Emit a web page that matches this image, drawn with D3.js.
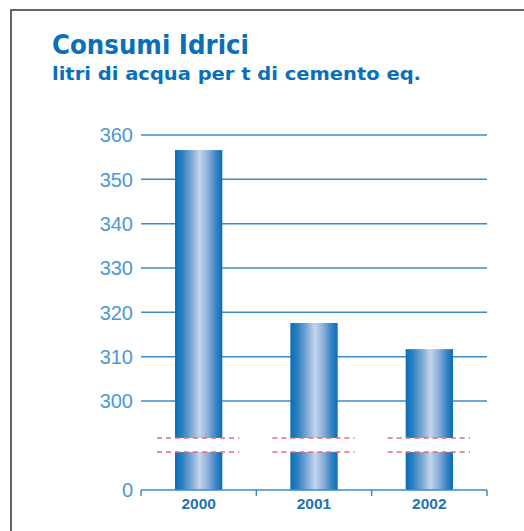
<!DOCTYPE html>
<html>
<head>
<meta charset="utf-8">
<script src="https://cdn.jsdelivr.net/npm/d3@7"></script>
<style>
  body { margin: 0; background: #fff; }
  svg { display: block; }
</style>
</head>
<body>
<div id="chart"></div>
<script>
// data
var years = ["2000", "2001", "2002"];
var consumi = [356.6, 317.6, 311.7];
var upperTicks = [300, 310, 320, 330, 340, 350, 360];
var lowerTicks = [0];

var W = 524, H = 531;
var svg = d3.select("#chart").append("svg")
  .attr("width", W).attr("height", H);

// frame (runs off the right and bottom edges)
svg.append("rect")
  .attr("x", 11).attr("y", 10)
  .attr("width", 540).attr("height", 560)
  .attr("fill", "none")
  .attr("stroke", "#333").attr("stroke-width", 1.5);

// titles
svg.append("text")
  .attr("x", 52).attr("y", 54)
  .attr("font-family", "DejaVu Sans")
  .attr("font-weight", "bold")
  .attr("font-size", 26)
  .attr("fill", "#0a6fb8")
  .attr("textLength", 197).attr("lengthAdjust", "spacingAndGlyphs")
  .text("Consumi Idrici");
svg.append("text")
  .attr("x", 52).attr("y", 80)
  .attr("font-family", "DejaVu Sans")
  .attr("font-weight", "bold")
  .attr("font-size", 17)
  .attr("fill", "#0a6fb8")
  .attr("textLength", 369).attr("lengthAdjust", "spacingAndGlyphs")
  .text("litri di acqua per t di cemento eq.");

// gradient for the bars
var defs = svg.append("defs");
var grad = defs.append("linearGradient").attr("id", "cyl")
  .attr("x1", "0%").attr("x2", "100%").attr("y1", "0%").attr("y2", "0%");
grad.append("stop").attr("offset", "0%").attr("stop-color", "#0a6db4");
grad.append("stop").attr("offset", "15%").attr("stop-color", "#2c80c2");
grad.append("stop").attr("offset", "35%").attr("stop-color", "#7ea7d5");
grad.append("stop").attr("offset", "52%").attr("stop-color", "#c4d5eb");
grad.append("stop").attr("offset", "70%").attr("stop-color", "#8aaed9");
grad.append("stop").attr("offset", "86%").attr("stop-color", "#3a86c6");
grad.append("stop").attr("offset", "100%").attr("stop-color", "#0a6db4");

// scales
var x = d3.scaleBand().domain(years).range([141, 487]).paddingInner(0.59).paddingOuter(0.295);
var yUp = d3.scaleLinear().domain([300, 360]).range([401, 135]);
var yLow = d3.scaleLinear().domain([0, 100]).range([490, 452]);
var breakHigh = yUp.invert(438);
var breakLow = 100;

var blue = "#3b8bcb";

// gridlines (upper section)
svg.append("g").selectAll("line").data(upperTicks).join("line")
  .attr("x1", 141).attr("x2", 487)
  .attr("y1", d => yUp(d)).attr("y2", d => yUp(d))
  .attr("stroke", blue).attr("stroke-width", 1.5);

// y tick labels
var yLabelStyle = function(sel) {
  sel.attr("x", 133).attr("dy", "0.36em")
    .attr("text-anchor", "end")
    .attr("font-family", "Liberation Sans, Arial, sans-serif")
    .attr("font-size", 20)
    .attr("fill", "#4a98d6");
};
svg.append("g").selectAll("text").data(upperTicks).join("text")
  .attr("y", d => yUp(d)).call(yLabelStyle).text(d => d);
svg.append("g").selectAll("text").data(lowerTicks).join("text")
  .attr("y", d => yLow(d)).call(yLabelStyle).text(d => d);

// bars: upper and lower segments
var bars = svg.append("g");
bars.selectAll("rect.up").data(consumi).join("rect")
  .attr("class", "up")
  .attr("x", (d, i) => x(years[i]))
  .attr("width", x.bandwidth())
  .attr("y", d => yUp(d))
  .attr("height", d => yUp(breakHigh) - yUp(d))
  .attr("fill", "url(#cyl)");
bars.selectAll("rect.low").data(consumi).join("rect")
  .attr("class", "low")
  .attr("x", (d, i) => x(years[i]))
  .attr("width", x.bandwidth())
  .attr("y", yLow(breakLow))
  .attr("height", yLow(0) - yLow(breakLow))
  .attr("fill", "url(#cyl)");

// red dashed break marks
var brk = svg.append("g");
[yUp(breakHigh), yLow(breakLow)].forEach(function(yy) {
  brk.selectAll(null).data(years).join("line")
    .attr("x1", d => x(d) - 18).attr("x2", d => x(d) + x.bandwidth() + 17)
    .attr("y1", yy).attr("y2", yy)
    .attr("stroke", "#ee6570").attr("stroke-width", 1.6)
    .attr("stroke-dasharray", "5,4");
});

// x axis
var xAxis = svg.append("g").attr("transform", "translate(0," + yLow(0) + ")");
xAxis.append("line").attr("x1", 141).attr("x2", 487)
  .attr("stroke", blue).attr("stroke-width", 1.5);
var tickXs = [141].concat(years.map(d => x(d) + x.bandwidth() + x.step() * 0.295));
xAxis.selectAll("line.tick").data(tickXs).join("line")
  .attr("class", "tick")
  .attr("x1", d => d).attr("x2", d => d)
  .attr("y1", 0).attr("y2", 6)
  .attr("stroke", blue).attr("stroke-width", 1.5);
xAxis.selectAll("text").data(years).join("text")
  .attr("x", d => x(d) + x.bandwidth() / 2)
  .attr("y", 19)
  .attr("text-anchor", "middle")
  .attr("font-family", "Liberation Sans, Arial, sans-serif")
  .attr("font-weight", "bold")
  .attr("font-size", 15.5)
  .attr("fill", "#1f72b6")
  .text(d => d);
</script>
</body>
</html>
